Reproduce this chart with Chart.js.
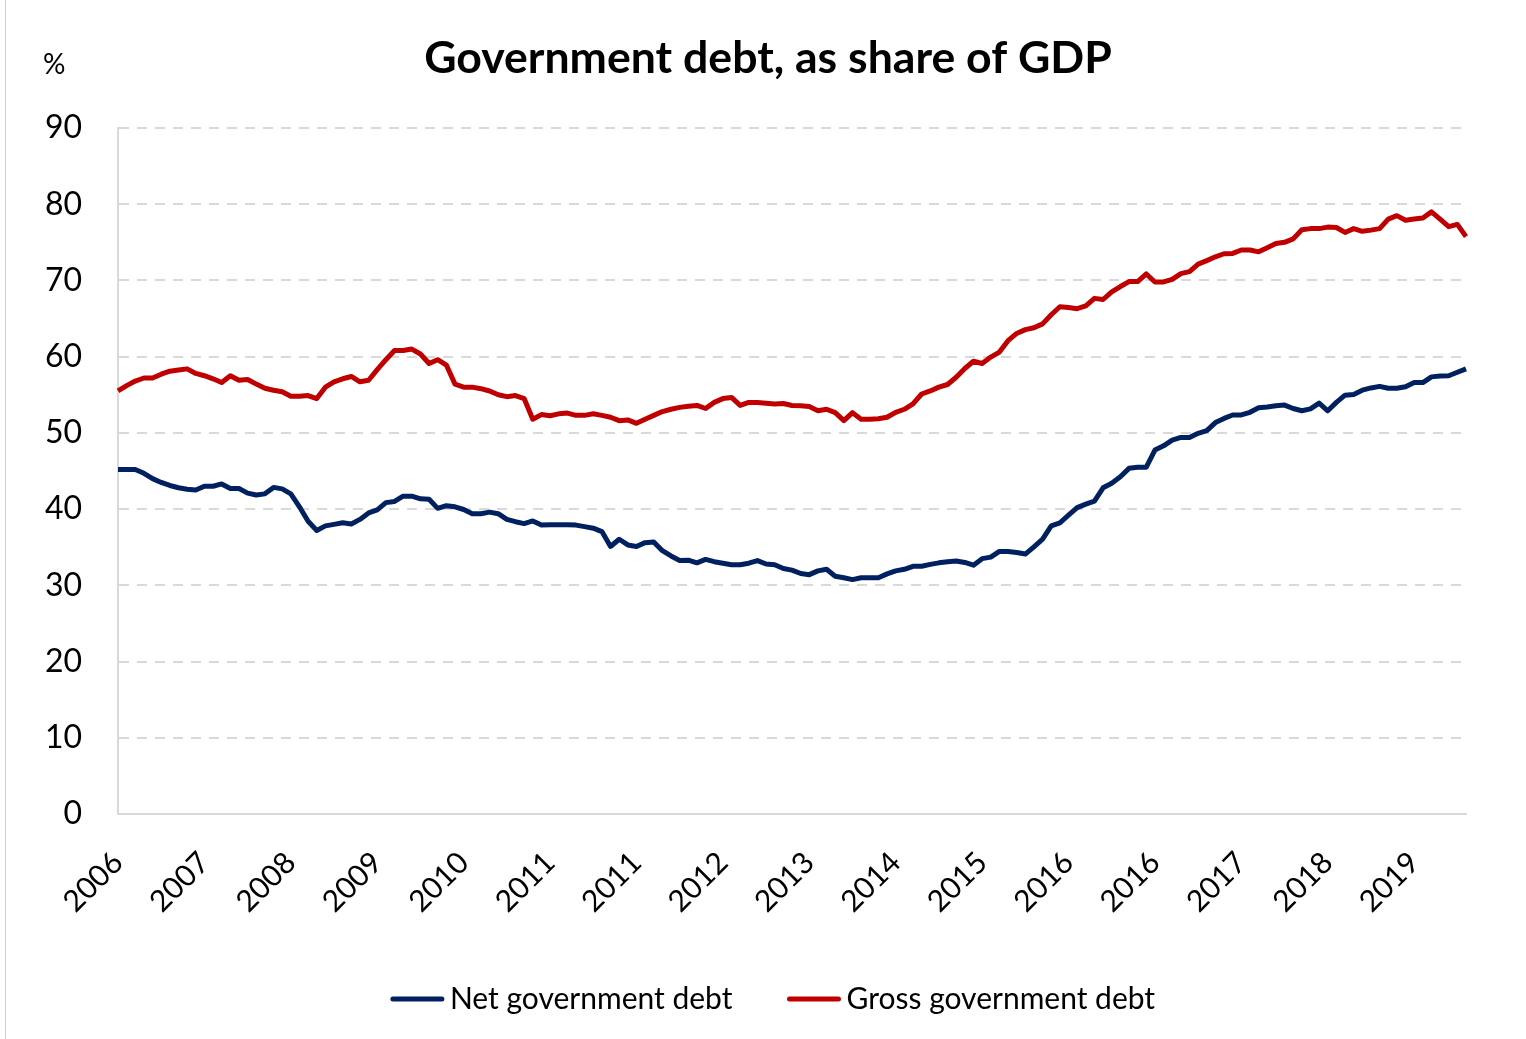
<!DOCTYPE html>
<html>
<head>
<meta charset="utf-8">
<title>Government debt, as share of GDP</title>
<script src="https://cdn.jsdelivr.net/npm/chart.js@4/dist/chart.umd.min.js"></script>
<style>
  html, body { margin: 0; padding: 0; background: #ffffff; }
  #wrap { position: relative; width: 1526px; height: 1039px; }
  canvas { display: block; }
</style>
</head>
<body>
<div id="wrap"><canvas id="chart" width="1526" height="1039"></canvas></div>
<script>
// Monthly observations, starting November 2006
const startYear = 2006;
const startMonth = 11;
const labelEvery = 10;

const titleText = 'Government debt, as share of GDP';
const unitText = '%';
const seriesNames = ['Net government debt', 'Gross government debt'];
const seriesColors = ['#002060', '#C00000'];
const yTicks = [0, 10, 20, 30, 40, 50, 60, 70, 80, 90];

// Net government debt, % of GDP
const netDebt = [
  45.2, 45.2, 45.2, 44.7, 44.0, 43.5, 43.1, 42.8, 42.6, 42.5,
  43.0, 43.0, 43.3, 42.7, 42.7, 42.1, 41.85, 42.0, 42.85, 42.65,
  42.0, 40.3, 38.4, 37.2, 37.8, 38.0, 38.2, 38.05, 38.65, 39.5,
  39.9, 40.85, 41.0, 41.7, 41.7, 41.35, 41.3, 40.1, 40.45, 40.3,
  39.95, 39.4, 39.4, 39.6, 39.4, 38.65, 38.35, 38.1, 38.45, 37.9,
  37.95, 37.95, 37.95, 37.9, 37.7, 37.5, 37.05, 35.1, 36.05, 35.3,
  35.1, 35.6, 35.7, 34.55, 33.85, 33.25, 33.3, 32.95, 33.4, 33.1,
  32.9, 32.7, 32.7, 32.9, 33.25, 32.8, 32.7, 32.2, 32.0, 31.55,
  31.4, 31.9, 32.1, 31.2, 31.0, 30.75, 31.0, 31.0, 31.0, 31.5,
  31.9, 32.1, 32.5, 32.5, 32.75, 32.95, 33.1, 33.2, 33.0, 32.65,
  33.5, 33.7, 34.45, 34.45, 34.3, 34.1, 35.05, 36.05, 37.8, 38.2,
  39.2, 40.2, 40.65, 41.05, 42.8, 43.4, 44.25, 45.35, 45.5, 45.5,
  47.75, 48.3, 49.05, 49.4, 49.4, 49.95, 50.3, 51.35, 51.9, 52.35,
  52.35, 52.7, 53.3, 53.4, 53.55, 53.65, 53.2, 52.9, 53.15, 53.9,
  52.9, 54.0, 54.95, 55.05, 55.6, 55.9, 56.1, 55.85, 55.85, 56.05,
  56.6, 56.6, 57.35, 57.45, 57.5, 57.95, 58.4
];

// Gross government debt, % of GDP
const grossDebt = [
  55.5, 56.2, 56.8, 57.2, 57.2, 57.7, 58.1, 58.25, 58.4, 57.8,
  57.5, 57.1, 56.6, 57.5, 56.9, 57.0, 56.4, 55.85, 55.6, 55.4,
  54.8, 54.8, 54.9, 54.5, 56.0, 56.7, 57.1, 57.4, 56.7, 56.9,
  58.3, 59.6, 60.8, 60.8, 61.0, 60.35, 59.1, 59.6, 58.9, 56.4,
  56.0, 56.0, 55.8, 55.5, 55.0, 54.75, 54.9, 54.5, 51.8, 52.4,
  52.25, 52.5, 52.6, 52.3, 52.3, 52.5, 52.3, 52.05, 51.6, 51.7,
  51.25, 51.8, 52.3, 52.8, 53.1, 53.35, 53.5, 53.6, 53.2, 54.0,
  54.5, 54.65, 53.6, 54.0, 54.0, 53.9, 53.8, 53.85, 53.6, 53.55,
  53.45, 52.9, 53.1, 52.65, 51.6, 52.65, 51.8, 51.8, 51.85, 52.05,
  52.7, 53.1, 53.8, 55.1, 55.5, 56.0, 56.35, 57.3, 58.45, 59.4,
  59.1, 59.95, 60.6, 62.1, 63.05, 63.55, 63.8, 64.3, 65.5, 66.55,
  66.45, 66.3, 66.65, 67.65, 67.5, 68.5, 69.2, 69.85, 69.85, 70.85,
  69.8, 69.8, 70.15, 70.9, 71.15, 72.15, 72.6, 73.1, 73.5, 73.55,
  74.0, 74.0, 73.75, 74.3, 74.85, 75.0, 75.45, 76.65, 76.8, 76.8,
  77.0, 76.95, 76.3, 76.8, 76.45, 76.6, 76.8, 78.05, 78.5, 77.9,
  78.05, 78.2, 79.0, 78.05, 77.05, 77.35, 75.75
];

// Month categories ("YYYY-MM") for every observation
const categories = netDebt.map((_, i) => {
  const m = startMonth - 1 + i;
  const y = startYear + Math.floor(m / 12);
  return y + '-' + String((m % 12) + 1).padStart(2, '0');
});

const FONT = 'Lato, Calibri, Carlito, "Open Sans", sans-serif';
const GRID = '#d9d9d9';

// Title, unit label, legend and outer frame line
const decorations = {
  id: 'decorations',
  beforeDraw(chart) {
    const ctx = chart.ctx;
    ctx.save();
    ctx.fillStyle = '#ffffff';
    ctx.fillRect(0, 0, chart.width, chart.height);
    ctx.strokeStyle = '#d0d0d0';
    ctx.lineWidth = 1;
    ctx.beginPath();
    ctx.moveTo(5.5, 0);
    ctx.lineTo(5.5, chart.height);
    ctx.stroke();
    ctx.restore();
  },
  afterDraw(chart) {
    const ctx = chart.ctx;
    ctx.save();
    ctx.fillStyle = '#000000';
    ctx.textBaseline = 'alphabetic';

    ctx.font = 'bold 44.6px ' + FONT;
    ctx.textAlign = 'center';
    ctx.fillText(titleText, 768, 73);

    ctx.font = '28px ' + FONT;
    ctx.textAlign = 'left';
    ctx.fillText(unitText, 43, 74);

    // Legend: short line sample followed by the series name
    ctx.font = '30px ' + FONT;
    const lineLen = 53, gap = 6, between = 55, cy = 999;
    const items = chart.data.datasets.map(ds => ({
      label: ds.label, color: ds.borderColor, w: ctx.measureText(ds.label).width
    }));
    const total = items.reduce((s, it) => s + lineLen + gap + it.w, 0) + between * (items.length - 1);
    let x = 773 - total / 2;
    items.forEach(it => {
      ctx.strokeStyle = it.color;
      ctx.lineWidth = 5;
      ctx.lineCap = 'round';
      ctx.beginPath();
      ctx.moveTo(x + 2, cy);
      ctx.lineTo(x + lineLen - 2, cy);
      ctx.stroke();
      ctx.fillStyle = '#000000';
      ctx.fillText(it.label, x + lineLen + gap, cy + 10);
      x += lineLen + gap + it.w + between;
    });
    ctx.restore();
  }
};

new Chart(document.getElementById('chart'), {
  type: 'line',
  data: {
    labels: categories,
    datasets: [
      {
        label: seriesNames[0],
        data: netDebt,
        borderColor: seriesColors[0],
        backgroundColor: seriesColors[0],
        borderWidth: 5,
        pointRadius: 0,
        tension: 0,
        fill: false,
        borderJoinStyle: 'round',
        borderCapStyle: 'butt'
      },
      {
        label: seriesNames[1],
        data: grossDebt,
        borderColor: seriesColors[1],
        backgroundColor: seriesColors[1],
        borderWidth: 5,
        pointRadius: 0,
        tension: 0,
        fill: false,
        borderJoinStyle: 'round',
        borderCapStyle: 'butt'
      }
    ]
  },
  options: {
    responsive: false,
    animation: false,
    devicePixelRatio: 1,
    layout: {
      autoPadding: false,
      padding: { top: 128, right: 60, bottom: 0, left: 0 }
    },
    plugins: {
      legend: { display: false },
      title: { display: false },
      tooltip: { enabled: false }
    },
    scales: {
      x: {
        type: 'category',
        offset: false,
        grid: { display: false, drawTicks: false },
        border: { display: true, color: GRID, width: 2 },
        ticks: {
          autoSkip: false,
          minRotation: 45,
          maxRotation: 45,
          padding: 31,
          color: '#000000',
          font: { family: FONT, size: 30 },
          callback: (value, index) => (index % labelEvery === 0 ? categories[index].slice(0, 4) : '')
        },
        afterFit: scale => { scale.height = 225; }
      },
      y: {
        min: 0,
        max: 90,
        afterBuildTicks: scale => { scale.ticks = yTicks.map(v => ({ value: v })); },
        grid: { color: GRID, lineWidth: 2, drawTicks: false },
        border: { display: true, color: GRID, width: 2, dash: [10, 8] },
        ticks: {
          padding: 36,
          color: '#000000',
          font: { family: FONT, size: 32 }
        },
        afterFit: scale => { scale.width = 118; }
      }
    }
  },
  plugins: [decorations]
});
</script>
</body>
</html>
